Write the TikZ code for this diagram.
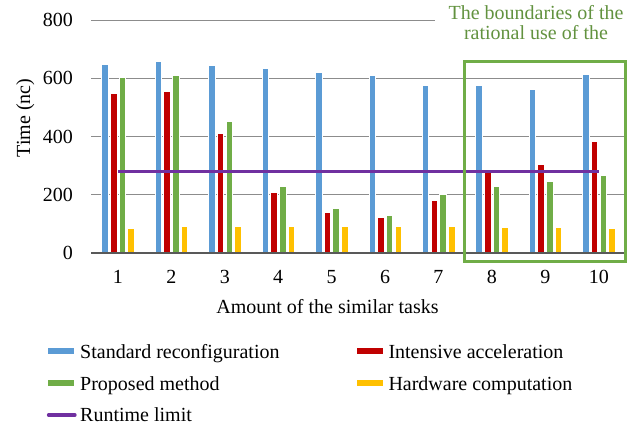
\documentclass[tikz,border=0pt]{standalone}
\usepackage{fontspec}
\setmainfont{Liberation Serif}
\definecolor{barblue}{HTML}{5B9BD5}
\definecolor{barred}{HTML}{C00000}
\definecolor{bargreen}{HTML}{70AD47}
\definecolor{baryellow}{HTML}{FFC000}
\definecolor{limitpurple}{HTML}{7030A0}
\definecolor{gridgray}{HTML}{8C8C8C}
\definecolor{axisgray}{HTML}{595959}
\definecolor{framegreen}{HTML}{70AD47}
\definecolor{notegreen}{HTML}{62923F}
\begin{document}
\begin{tikzpicture}[x=1pt,y=1pt,
  font=\fontsize{20}{24}\selectfont,
  gridline/.style={draw=gridgray,line width=0.9pt},
  axisline/.style={draw=axisgray,line width=1.5pt},
  bar/.style={draw=white,line width=0.5pt},
  limitline/.style={draw=limitpurple,line width=3.3pt},
  legendtext/.style={anchor=base west,inner sep=0pt},
  ticklabel/.style={inner sep=0pt}]
\useasboundingbox (0,0) rectangle (629,426);

% horizontal gridlines (value v sits at 173 + 0.29125 v)
\foreach \v in {200,400,600}
  \draw[gridline] (91.2,{173+\v*0.29125}) -- (625,{173+\v*0.29125});
\draw[gridline] (91.2,406) -- (435,406);

% y tick labels
\foreach \v in {0,200,400,600,800}
  \node[ticklabel,anchor=east] (ytick\v) at (73,{173+\v*0.29125}) {\v};

% grouped bars: standard / intensive / proposed / hardware
\foreach \i/\a/\b/\c/\d in {1/649/547/604/85, 2/660/554/610/93, 3/644/411/451/93,
    4/636/210/230/93, 5/619/140/152/93, 6/611/122/128/93, 7/577/181/200/93,
    8/577/279/228/89, 9/562/306/246/89, 10/615/382/268/86} {
  \pgfmathsetmacro\cx{117.9+53.43*(\i-1)}
  \path[bar,fill=barblue]   ({\cx-16.3},173) rectangle ({\cx-9.8},{173+\a*0.29125});
  \path[bar,fill=barred]    ({\cx-7.6},173)  rectangle ({\cx-1.1},{173+\b*0.29125});
  \path[bar,fill=bargreen]  ({\cx+1.1},173)  rectangle ({\cx+7.6},{173+\c*0.29125});
  \path[bar,fill=baryellow] ({\cx+9.8},173)  rectangle ({\cx+16.3},{173+\d*0.29125});
  \node[ticklabel,anchor=base] (xtick\i) at (\cx,142.7) {\i};
}

% category axis
\draw[axisline] (91.2,173) -- (625,173);

% runtime limit
\coordinate (limA) at (117.9,254.55);
\coordinate (limB) at (598.8,254.55);
\draw[limitline] (limA) -- (limB);

% highlighted region and its caption
\draw[framegreen,line width=3pt] (464.3,164.3) rectangle (625,364.3);
\node[notegreen,anchor=base,inner sep=0pt] (note1) at (536,406.7) {The boundaries of the};
\node[notegreen,anchor=base,inner sep=0pt] (note2) at (536,386) {rational use of the};

% axis titles
\node[inner sep=0pt,anchor=base] (xtitle) at (327.5,112.7) {Amount of the similar tasks};
\node[inner sep=0pt,anchor=base,rotate=90] (ytitle) at (30,308) {Time (nc)};

% legend
\fill[barblue]   (48.3,72) rectangle (74.3,78.5);
\node[legendtext] (lg1) at (80,67.5) {Standard reconfiguration};
\fill[barred]    (357.3,72) rectangle (383.3,78.5);
\node[legendtext] (lg2) at (388.3,67.5) {Intensive acceleration};
\fill[bargreen]  (48.3,40) rectangle (74.3,46.5);
\node[legendtext] (lg3) at (80,35.5) {Proposed method};
\fill[baryellow] (357.3,40) rectangle (383.3,46.5);
\node[legendtext] (lg4) at (388.3,35.5) {Hardware computation};
\coordinate (lgA) at (48.5,11);
\coordinate (lgB) at (75,11);
\draw[limitline,line cap=round] (lgA) -- (lgB);
\node[legendtext] (lg5) at (80,4.5) {Runtime limit};
\end{tikzpicture}
\end{document}
